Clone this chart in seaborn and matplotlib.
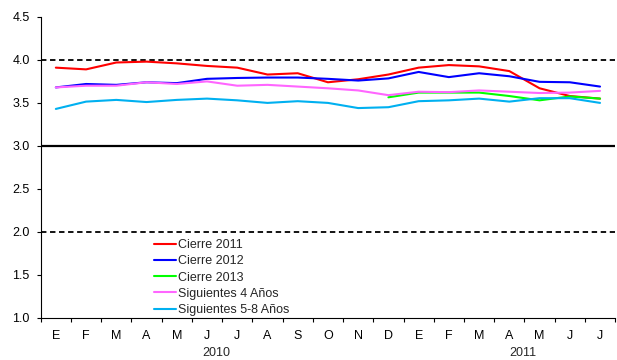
import numpy as np
import pandas as pd
import matplotlib
matplotlib.use("Agg")
import matplotlib.pyplot as plt
import seaborn as sns

months = ["E", "F", "M", "A", "M", "J", "J", "A", "S", "O", "N", "D",
          "E", "F", "M", "A", "M", "J", "J"]
years = ["2010", "2011"]

cierre_2011 = [3.91, 3.89, 3.97, 3.98, 3.96, 3.93, 3.91, 3.83, 3.845, 3.74,
               3.775, 3.83, 3.91, 3.94, 3.925, 3.87, 3.67, 3.58, 3.55]
cierre_2012 = [3.68, 3.72, 3.71, 3.74, 3.73, 3.78, 3.79, 3.795, 3.795, 3.78,
               3.76, 3.785, 3.86, 3.80, 3.845, 3.81, 3.745, 3.74, 3.69]
cierre_2013 = [None] * 11 + [3.565, 3.62, 3.62, 3.62, 3.58, 3.53, 3.575, 3.55]
sig_4 = [3.68, 3.70, 3.70, 3.74, 3.72, 3.75, 3.70, 3.71, 3.69, 3.67,
         3.645, 3.59, 3.63, 3.625, 3.645, 3.63, 3.615, 3.62, 3.64]
sig_5_8 = [3.43, 3.515, 3.535, 3.51, 3.535, 3.55, 3.53, 3.50, 3.52, 3.50,
           3.44, 3.45, 3.52, 3.53, 3.55, 3.515, 3.555, 3.555, 3.50]

series = {
    "Cierre 2011": cierre_2011,
    "Cierre 2012": cierre_2012,
    "Cierre 2013": cierre_2013,
    "Siguientes 4 Años": sig_4,
    "Siguientes 5-8 Años": sig_5_8,
}
colors = ["#FF0000", "#0000FF", "#00FF00", "#FF66FF", "#00B0F0"]

rows = []
for name, vals in series.items():
    for i, v in enumerate(vals):
        if v is not None:
            rows.append({"mes": i, "valor": v, "serie": name})
df = pd.DataFrame(rows)

sns.set_style("white")
plt.rcParams["font.family"] = ["Liberation Sans", "DejaVu Sans"]

fig = plt.figure(figsize=(6.17, 3.6), dpi=100)
ax = fig.add_axes([0.066, 0.117, 0.931, 0.836])

# Reference levels
ax.axhline(4.0, color="black", lw=1.3, ls=(0, (3, 2)), zorder=1)
ax.axhline(3.0, color="black", lw=1.6, zorder=1)
ax.axhline(2.0, color="black", lw=1.3, ls=(0, (3, 2)), zorder=1)

sns.lineplot(data=df, x="mes", y="valor", hue="serie",
             hue_order=list(series.keys()), palette=colors,
             linewidth=1.5, ax=ax, legend=True)

ax.set_xlim(-0.5, len(months) - 0.5)
ax.set_ylim(1.0, 4.5)
ax.set_yticks(np.arange(1.0, 4.51, 0.5))
ax.set_yticklabels([f"{v:.1f}" for v in np.arange(1.0, 4.51, 0.5)])

ax.set_xticks(np.arange(-0.5, len(months), 1.0))
ax.set_xticklabels([])
ax.set_xticks(np.arange(len(months)), minor=True)
ax.set_xticklabels(months, minor=True)
ax.tick_params(axis="x", which="major", direction="out", length=3,
               width=0.8, color="black", bottom=True)
ax.tick_params(axis="x", which="minor", length=0, pad=9, labelsize=9,
               labelcolor="black")
ax.tick_params(axis="y", direction="out", length=3, width=0.8,
               color="black", left=True, labelsize=9, pad=5,
               labelcolor="black")

for s in ["top", "right"]:
    ax.spines[s].set_visible(False)
for s in ["left", "bottom"]:
    ax.spines[s].set_color("black")
    ax.spines[s].set_linewidth(0.8)

ax.set_xlabel("")
ax.set_ylabel("")

# Year labels under the month ticks
fig.text(ax.transData.transform((5.3, 1.0))[0] / fig.bbox.width, 0.003,
         years[0], ha="center", va="bottom", fontsize=9)
fig.text(ax.transData.transform((15.45, 1.0))[0] / fig.bbox.width, 0.003,
         years[1], ha="center", va="bottom", fontsize=9)

leg = ax.legend(loc="upper left", bbox_to_anchor=(0.198, 0.262),
                frameon=False, fontsize=9, handlelength=1.7,
                handletextpad=0.15, labelspacing=0.34, borderpad=0,
                borderaxespad=0)

fig.savefig("out.png", dpi=100)
